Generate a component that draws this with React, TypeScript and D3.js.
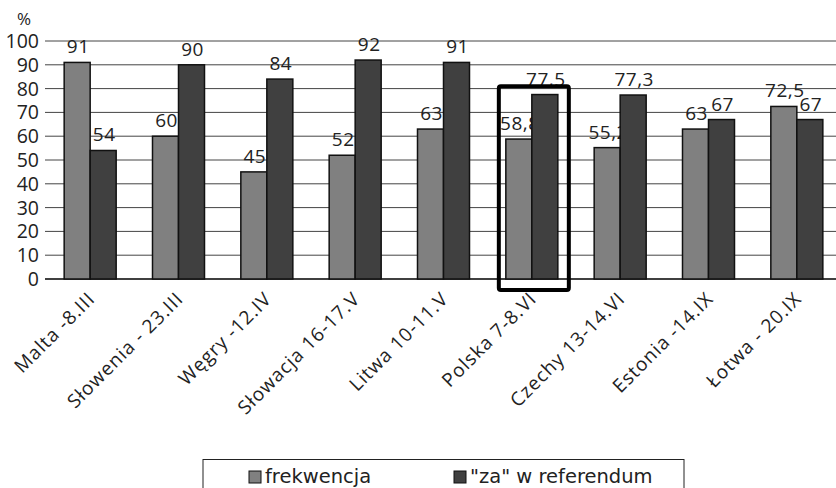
import React from "react";
import * as d3 from "d3";

const categories = [
  "Malta -8.III",
  "Słowenia - 23.III",
  "Węgry -12.IV",
  "Słowacja 16-17.V",
  "Litwa 10-11.V",
  "Polska 7-8.VI",
  "Czechy 13-14.VI",
  "Estonia -14.IX",
  "Łotwa - 20.IX",
];
const frekwencja = [91, 60, 45, 52, 63, 58.8, 55.2, 63, 72.5];
const zaReferendum = [54, 90, 84, 92, 91, 77.5, 77.3, 67, 67];
const seriesNames = ["frekwencja", "\"za\" w referendum"];
const yTicks = [0, 10, 20, 30, 40, 50, 60, 70, 80, 90, 100];
const highlighted = "Polska 7-8.VI";

const W = 836;
const H = 488;
const colors = ["#808080", "#404040"];

const fmt = (v: number) => String(v).replace(".", ",");

export default function App() {
  const x = d3.scaleBand<string>().domain(categories).range([46, 841]).padding(0);
  const y = d3.scaleLinear().domain([0, 100]).range([279, 41]);
  const barW = 26;
  const series = [frekwencja, zaReferendum];
  const font = "'Open Sans', sans-serif";
  const hx = (x(highlighted) as number) + x.bandwidth() / 2;

  return (
    <svg
      width={W}
      height={H}
      style={{ position: "absolute", left: 0, top: 0, background: "#fff" }}
    >
      {yTicks.map((t) => (
        <g key={t}>
          <line x1={45} x2={W} y1={y(t)} y2={y(t)} stroke={t === 0 ? "#000" : "#444"} strokeWidth={t === 0 ? 1.5 : 1} />
          <text x={39} y={y(t)} dy="0.36em" textAnchor="end" fontFamily={font} fontSize={19.5} fill="#222">
            {t}
          </text>
        </g>
      ))}
      <text x={24} y={25} textAnchor="middle" fontFamily={font} fontSize={17} fill="#222">%</text>

      {categories.map((c, i) => {
        const cx = (x(c) as number) + x.bandwidth() / 2;
        return (
          <g key={c}>
            {series.map((s, k) => {
              const bx = cx - barW + k * barW;
              return (
                <g key={k}>
                  <rect
                    x={bx}
                    y={y(s[i])}
                    width={barW}
                    height={y(0) - y(s[i])}
                    fill={colors[k]}
                    stroke="#111"
                    strokeWidth={1.5}
                  />
                  <text
                    x={bx + barW / 2 + 1}
                    y={y(s[i]) - 9}
                    textAnchor="middle"
                    fontFamily={font}
                    fontSize={19}
                    letterSpacing={0.5}
                    fill="#222"
                  >
                    {fmt(s[i])}
                  </text>
                </g>
              );
            })}
            <text
              transform={`translate(${cx + 6},${y(0) + 21}) rotate(-45)`}
              textAnchor="end"
              fontFamily={font}
              fontSize={19}
              letterSpacing={1}
              fill="#222"
            >
              {c}
            </text>
          </g>
        );
      })}

      <rect
        x={hx - 33}
        y={y(81)}
        width={70}
        height={y(0) + 11 - y(81)}
        fill="none"
        stroke="#000"
        strokeWidth={4}
        rx={2}
      />

      <rect x={203} y={459.5} width={481} height={40} fill="#fff" stroke="#222" strokeWidth={1} />
      {seriesNames.map((n, k) => {
        const lx = k === 0 ? 249 : 454;
        return (
          <g key={n}>
            <rect x={lx} y={471} width={12} height={12} fill={colors[k]} stroke="#111" strokeWidth={1} />
            <text x={lx + 16} y={483} fontFamily="'DejaVu Sans', sans-serif" fontSize={19.5} fill="#222">
              {n}
            </text>
          </g>
        );
      })}
    </svg>
  );
}
